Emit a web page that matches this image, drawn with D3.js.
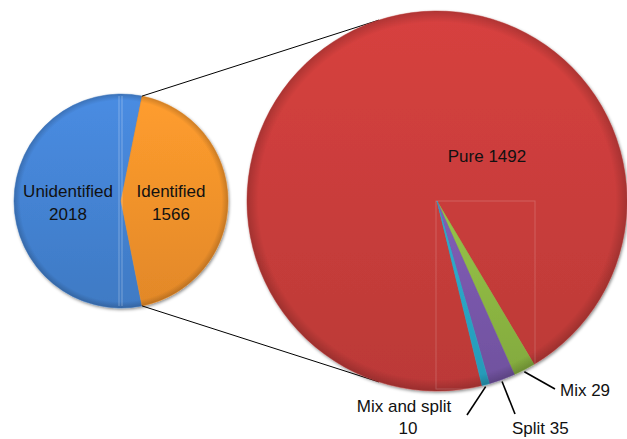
<!DOCTYPE html>
<html>
<head>
<meta charset="utf-8">
<script src="https://cdn.jsdelivr.net/npm/d3@7"></script>
<style>
  html, body { margin: 0; padding: 0; background: #fff; }
  svg { display: block; }
  text { font-family: "Liberation Sans", Arial, Helvetica, sans-serif; font-size: 17px; fill: #111; }
</style>
</head>
<body>
<svg id="chart" width="627" height="439"></svg>
<script>
// ---- data ----
const mainCategories = ["Unidentified", "Identified"];
const mainValues = [2018, 1566];
const subCategories = ["Pure", "Mix", "Split", "Mix and split"];
const subValues = [1492, 29, 35, 10];

// ---- layout / style ----
const W = 627, H = 439;
const mainColors = ["#4585d6", "#f7952c"];
const subColors = ["#cc3e3c", "#8fba44", "#7a59ad", "#2aa8c8"];
const left = { cx: 121, cy: 201, r: 107 };
const right = { cx: 437, cy: 201, r: 190 };
const deg = Math.PI / 180;

const svg = d3.select("#chart");
const defs = svg.append("defs");

// drop shadow
const f = defs.append("filter").attr("id", "shadow").attr("x", "-10%").attr("y", "-10%").attr("width", "125%").attr("height", "125%");
f.append("feDropShadow").attr("dx", 1).attr("dy", 1.5).attr("stdDeviation", 1.6).attr("flood-color", "#000").attr("flood-opacity", 0.45);

function gradFor(id, color) {
  const c = d3.color(color);
  const g = defs.append("linearGradient").attr("id", id).attr("x1", 0).attr("y1", 0).attr("x2", 0).attr("y2", 1);
  g.append("stop").attr("offset", "0%").attr("stop-color", c.brighter(0.15).formatHex());
  g.append("stop").attr("offset", "100%").attr("stop-color", c.darker(0.25).formatHex());
  return `url(#${id})`;
}
// edge bevel overlay
const rg = defs.append("radialGradient").attr("id", "bevel");
rg.append("stop").attr("offset", "0%").attr("stop-color", "#000").attr("stop-opacity", 0);
rg.append("stop").attr("offset", "94%").attr("stop-color", "#000").attr("stop-opacity", 0);
rg.append("stop").attr("offset", "100%").attr("stop-color", "#000").attr("stop-opacity", 0.18);

// ---- left pie ----
const identAngle = mainValues[1] / d3.sum(mainValues) * 2 * Math.PI;
const leftStart = Math.PI / 2 + identAngle / 2;
const pieL = d3.pie().sort(null).startAngle(leftStart).endAngle(leftStart + 2 * Math.PI);
const arcsL = pieL(mainValues);
const arcL = d3.arc().innerRadius(0).outerRadius(left.r);

const gL = svg.append("g").attr("transform", `translate(${left.cx},${left.cy})`);
const gLs = gL.append("g").attr("filter", "url(#shadow)");
gLs.selectAll("path").data(arcsL).join("path")
  .attr("d", arcL)
  .attr("fill", (d, i) => gradFor("gl" + i, mainColors[i]))
  .attr("stroke", (d, i) => d3.color(mainColors[i]).darker(0.1))
  .attr("stroke-width", 0.5);
gL.append("circle").attr("r", left.r).attr("fill", "url(#bevel)");
// faint artifact lines
[-2, 1].forEach(dx => {
  const hh = Math.sqrt(left.r * left.r - dx * dx);
  gL.append("line").attr("x1", dx).attr("x2", dx).attr("y1", -hh + 2).attr("y2", hh - 2)
    .attr("stroke", "#fff").attr("stroke-opacity", 0.3).attr("stroke-width", 1);
});

// labels left
const leftLabelX = [-53, 50];
arcsL.forEach((d, i) => {
  const t = gL.append("text").attr("text-anchor", "middle");
  t.append("tspan").attr("x", leftLabelX[i]).attr("y", -4).text(mainCategories[i]);
  t.append("tspan").attr("x", leftLabelX[i]).attr("y", 19).text(mainValues[i]);
});

// ---- right pie ----
const subTotal = d3.sum(subValues);
const smallAngle = d3.sum(subValues.slice(1)) / subTotal * 2 * Math.PI;
const smallCenter = 157.8 * deg;
const rightStart = smallCenter + smallAngle / 2;
const pieR = d3.pie().sort(null).startAngle(rightStart).endAngle(rightStart + 2 * Math.PI);
const arcsR = pieR(subValues);
const arcR = d3.arc().innerRadius(0).outerRadius(right.r);

// ---- connector lines (tangent from left pie's identified edge to right pie) ----
const pA = [left.cx + left.r * Math.sin(arcsL[1].startAngle), left.cy - left.r * Math.cos(arcsL[1].startAngle)];
const pB = [left.cx + left.r * Math.sin(arcsL[1].endAngle), left.cy - left.r * Math.cos(arcsL[1].endAngle)];
function tangentPoint(p, upper) {
  const dx = p[0] - right.cx, dy = p[1] - right.cy;
  const d = Math.hypot(dx, dy);
  const base = Math.atan2(dx, -dy);
  const off = Math.acos(right.r / d);
  const a = upper ? base + off : base - off;
  return [right.cx + right.r * Math.sin(a), right.cy - right.r * Math.cos(a)];
}
const tA = tangentPoint(pA, true);
const tB = tangentPoint(pB, false);
svg.append("line").attr("x1", pA[0]).attr("y1", pA[1]).attr("x2", tA[0]).attr("y2", tA[1]).attr("stroke", "#000").attr("stroke-width", 1);
svg.append("line").attr("x1", pB[0]).attr("y1", pB[1]).attr("x2", tB[0]).attr("y2", tB[1]).attr("stroke", "#000").attr("stroke-width", 1);

const gR = svg.append("g").attr("transform", `translate(${right.cx},${right.cy})`);
const gRs = gR.append("g").attr("filter", "url(#shadow)");
gRs.selectAll("path").data(arcsR).join("path")
  .attr("d", arcR)
  .attr("fill", (d, i) => gradFor("gr" + i, subColors[i]))
  .attr("stroke", (d, i) => d3.color(subColors[i]).darker(0.1))
  .attr("stroke-width", 0.5);
gR.append("circle").attr("r", right.r).attr("fill", "url(#bevel)");
// faint artifact rectangle
gR.append("rect").attr("x", -1).attr("y", 0).attr("width", 99).attr("height", 188)
  .attr("fill", "none").attr("stroke", "#fff").attr("stroke-opacity", 0.18).attr("stroke-width", 1);

// Pure label inside
gR.append("text").attr("text-anchor", "middle").attr("x", 50).attr("y", -39)
  .text(`${subCategories[0]} ${subValues[0]}`);

// outside labels with leader lines
const leaders = [
  null,
  { end: [118, 188], text: [[`${subCategories[1]} ${subValues[1]}`, 123, 195]], anchor: "start" },
  { end: [78, 213], text: [[`${subCategories[2]} ${subValues[2]}`, 75, 233]], anchor: "start" },
  { end: [30, 214], text: [[subCategories[3], -33, 211], [String(subValues[3]), -29, 233]], anchor: "middle" }
];
arcsR.forEach((d, i) => {
  const L = leaders[i];
  if (!L) return;
  const m = (d.startAngle + d.endAngle) / 2;
  const sx = right.r * Math.sin(m), sy = -right.r * Math.cos(m);
  gR.append("line").attr("x1", sx).attr("y1", sy + 2).attr("x2", L.end[0]).attr("y2", L.end[1])
    .attr("stroke", "#000").attr("stroke-width", 1.6);
  L.text.forEach(([s, x, y]) => {
    gR.append("text").attr("text-anchor", L.anchor).attr("x", x).attr("y", y).text(s);
  });
});
</script>
</body>
</html>
